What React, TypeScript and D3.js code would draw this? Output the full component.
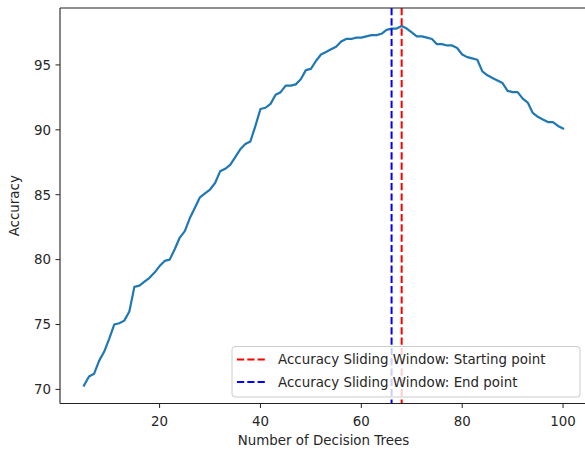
import React from 'react';
import { scaleLinear, line } from 'd3';

// number of trees on the x axis
const trees: number[] = [];
for (let t = 5; t <= 100; t++) trees.push(t);

// accuracy, one value per tree count (5..100)
const accuracy = [
  70.3, 71.0, 71.2, 72.2, 72.9, 73.9, 75.0, 75.1, 75.3, 76.0,
  77.9, 78.0, 78.3, 78.6, 79.0, 79.5, 79.9, 80.0, 80.8, 81.7,
  82.2, 83.2, 84.0, 84.8, 85.1, 85.4, 85.9, 86.8, 87.0, 87.3,
  87.9, 88.5, 88.9, 89.1, 90.3, 91.6, 91.7, 92.0, 92.7, 92.9,
  93.4, 93.4, 93.5, 93.9, 94.6, 94.7, 95.3, 95.8, 96.0, 96.2,
  96.4, 96.8, 97.0, 97.0, 97.1, 97.1, 97.2, 97.3, 97.3, 97.4,
  97.7, 97.8, 97.8, 98.0, 97.8, 97.5, 97.2, 97.2, 97.1, 97.0,
  96.6, 96.6, 96.5, 96.5, 96.3, 95.8, 95.6, 95.5, 95.4, 94.5,
  94.2, 94.0, 93.8, 93.6, 93.0, 92.9, 92.9, 92.4, 92.1, 91.3,
  91.0, 90.8, 90.6, 90.6, 90.3, 90.1,
];

const xTicks = [20, 40, 60, 80, 100];
const yTicks = [70, 75, 80, 85, 90, 95];

// sliding window markers
const windowLines = [
  { label: 'Accuracy Sliding Window: Starting point', at: 68, color: '#ff0000' },
  { label: 'Accuracy Sliding Window: End point', at: 66, color: '#0000ff' },
];

const App = () => {
  const width = 585;
  const height = 451;
  const left = 60, right = 587, top = 8, bottom = 403.5;
  const font = 'DejaVu Sans, sans-serif';
  const fs = 13.4;

  /* matplotlib style limits: 5% padding round the data */
  const xMin = 5, xMax = 100;
  const yMin = Math.min(...accuracy), yMax = Math.max(...accuracy);
  const xPad = (xMax - xMin) * 0.05;
  const yPad = (yMax - yMin) * 0.05;

  const xScale = scaleLinear().domain([xMin - xPad, xMax + xPad]).range([left, right]);
  const yScale = scaleLinear().domain([yMin - yPad, yMax + yPad]).range([bottom, top]);

  const path = line<number>()
    .x((d, i) => xScale(trees[i]))
    .y((d) => yScale(d))(accuracy) || '';

  const legendX = 232, legendY = 346.5, legendW = 348, legendH = 50.5;

  return (
    <div style={{ position: 'fixed', left: 0, top: 0 }}>
      <svg width={width} height={height} style={{ display: 'block', background: '#fff' }} fontFamily={font}>
        <path d={path} fill="none" stroke="#1f77b4" strokeWidth={2.2} strokeLinejoin="round" strokeLinecap="square" />

        {windowLines.map((w) => (
          <line key={w.label} x1={xScale(w.at)} x2={xScale(w.at)} y1={top} y2={bottom}
            stroke={w.color} strokeWidth={2} strokeDasharray="7.2,3.1" />
        ))}

        {/* spines */}
        <line x1={left} x2={left} y1={top} y2={bottom} stroke="#222" strokeWidth={1.1} />
        <line x1={left} x2={right} y1={bottom} y2={bottom} stroke="#222" strokeWidth={1.1} />
        <line x1={left} x2={right} y1={top} y2={top} stroke="#222" strokeWidth={1.1} />
        <line x1={right} x2={right} y1={top} y2={bottom} stroke="#222" strokeWidth={1.1} />

        {xTicks.map((t) => (
          <g key={t} transform={`translate(${xScale(t)},${bottom})`}>
            <line y2={4.5} stroke="#222" strokeWidth={1} />
            <text y={22.5} textAnchor="middle" fontSize={fs} fill="#262626">{t}</text>
          </g>
        ))}
        {yTicks.map((t) => (
          <g key={t} transform={`translate(${left},${yScale(t)})`}>
            <line x2={-4.5} stroke="#222" strokeWidth={1} />
            <text x={-9} dy="0.36em" textAnchor="end" fontSize={fs} fill="#262626">{t}</text>
          </g>
        ))}

        <text x={(left + right) / 2} y={445} textAnchor="middle" fontSize={fs} fill="#262626">Number of Decision Trees</text>
        <text transform={`translate(19,${(top + bottom) / 2}) rotate(-90)`} textAnchor="middle" fontSize={fs} fill="#262626">Accuracy</text>

        {/* legend */}
        <rect x={legendX} y={legendY} width={legendW} height={legendH} rx={3}
          fill="#fff" fillOpacity={0.8} stroke="#cccccc" strokeWidth={1} />
        {windowLines.map((w, i) => (
          <g key={w.label} transform={`translate(${legendX}, ${legendY + 13 + i * 22.5})`}>
            <line x1={5} x2={35} stroke={w.color} strokeWidth={2} strokeDasharray="7.2,3.1" />
            <text x={46} dy="0.36em" fontSize={fs} fill="#262626">{w.label}</text>
          </g>
        ))}
      </svg>
    </div>
  );
};

export default App;
